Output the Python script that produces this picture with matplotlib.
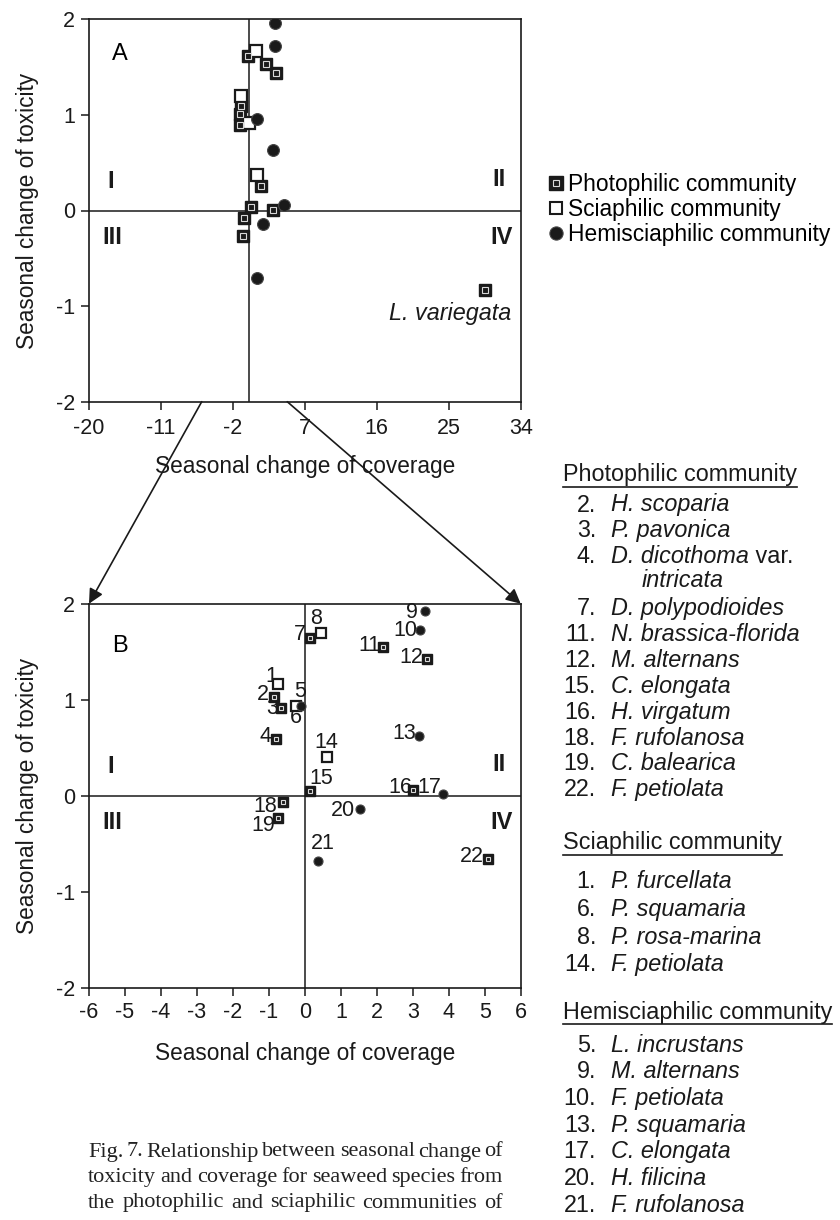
import matplotlib
matplotlib.use('Agg')
import matplotlib.pyplot as plt
from matplotlib.patches import ConnectionPatch
from matplotlib.legend_handler import HandlerTuple
from matplotlib.lines import Line2D

plt.rcParams['font.family'] = ['Liberation Sans', 'DejaVu Sans']
plt.rcParams['axes.unicode_minus'] = False

# panel A : whole range of coverage change
a_photo_x = [-0.07, 2.14, 3.35, -0.99, -1.11, -1.11, 1.48, 0.22, 3.06, -0.61, -0.69]
a_photo_y = [1.62, 1.53, 1.44, 1.09, 1.01, 0.89, 0.26, 0.04, 0.01, -0.08, -0.27]
a_scia_x = [0.89, -0.99, 0.05, 1.05]
a_scia_y = [1.67, 1.20, 0.92, 0.37]
a_hemi_x = [3.27, 3.27, 0.98, 3.06, 4.40, 1.73, 1.06]
a_hemi_y = [1.96, 1.72, 0.96, 0.63, 0.06, -0.14, -0.71]
outlier_name = 'L. variegata'
outlier_x = [29.54]
outlier_y = [-0.83]

# panel B : zoom on -6..6, numbered species
b_photo_num = [2, 3, 4, 7, 11, 12, 15, 16, 18, 19, 22]
b_photo_x = [-0.86, -0.67, -0.80, 0.13, 2.16, 3.39, 0.13, 3.00, -0.62, -0.76, 5.10]
b_photo_y = [1.03, 0.91, 0.59, 1.64, 1.55, 1.42, 0.05, 0.06, -0.07, -0.23, -0.66]
b_scia_num = [1, 6, 8, 14]
b_scia_x = [-0.76, -0.25, 0.44, 0.62]
b_scia_y = [1.16, 0.93, 1.69, 0.40]
b_hemi_num = [5, 9, 10, 13, 17, 20, 21]
b_hemi_x = [-0.10, 3.34, 3.20, 3.16, 3.83, 1.53, 0.37]
b_hemi_y = [0.93, 1.92, 1.73, 0.62, 0.02, -0.14, -0.68]

# species names for the list on the right
photo_names = ['H. scoparia', 'P. pavonica', 'D. dicothoma var. intricata', 'D. polypodioides',
               'N. brassica-florida', 'M. alternans', 'C. elongata', 'H. virgatum',
               'F. rufolanosa', 'C. balearica', 'F. petiolata']
scia_names = ['P. furcellata', 'P. squamaria', 'P. rosa-marina', 'F. petiolata']
hemi_names = ['L. incrustans', 'M. alternans', 'F. petiolata', 'P. squamaria',
              'C. elongata', 'H. filicina', 'F. rufolanosa']

groups = ['Photophilic community', 'Sciaphilic community', 'Hemisciaphilic community']

a_xticks = [-20, -11, -2, 7, 16, 25, 34]
b_xticks = list(range(-6, 7))
yticks = [-2, -1, 0, 1, 2]

caption = ['Fig. 7. Relationship between seasonal change of',
           'toxicity and coverage for seaweed species from',
           'the photophilic and sciaphilic communities of']

W, H = 840, 1220
fig = plt.figure(figsize=(W / 100, H / 100), dpi=100)


def fx(x):
    return x / W


def fy(y):
    return 1 - y / H


axA = fig.add_axes([fx(89), fy(401.7), fx(520.7) - fx(89), fy(19.3) - fy(401.7)])
axB = fig.add_axes([fx(89), fy(987.7), fx(520.7) - fx(89), fy(603.7) - fy(987.7)])

FS = 15.5      # ticks and point numbers
FL = 16.3      # axis titles
FT = 16.8      # species list
INK = '#1a1a1a'


def photo(ax, x, y, big):
    ms, inner = (8.5, 4.5) if big else (7.5, 3.5)
    ax.plot(x, y, 's', ms=ms, mfc=INK, mec=INK, mew=1, ls='none', zorder=4)
    ax.plot(x, y, 's', ms=inner, mfc='none', mec='#d8d8d8', mew=0.8, ls='none', zorder=5)


def scia(ax, x, y, big):
    ms = 8.5 if big else 7.5
    ax.plot(x, y, 's', ms=ms, mfc='white', mec=INK, mew=1.6, ls='none', zorder=4)


def hemi(ax, x, y, big):
    ms = 8.5 if big else 6.5
    ax.plot(x, y, 'o', ms=ms, mfc=INK, mec='#444444', mew=0.8, ls='none', zorder=4)


for ax, xt in [(axA, a_xticks), (axB, b_xticks)]:
    ax.set_xlim(xt[0], xt[-1])
    ax.set_ylim(-2, 2)
    ax.set_xticks(xt)
    ax.set_yticks(yticks)
    ax.axhline(0, color=INK, lw=1.1, zorder=1)
    ax.axvline(0, color=INK, lw=1.1, zorder=1)
    for s in ax.spines.values():
        s.set_linewidth(1.2)
        s.set_color(INK)
    ax.tick_params(direction='out', length=6, width=1.1, labelsize=FS, colors=INK, pad=4)
    ax.set_ylabel('Seasonal change of toxicity', fontsize=FL, labelpad=12, color=INK)
    for txt, px, py in [('I', 0.05, 0.575), ('II', 0.95, 0.58), ('III', 0.055, 0.43),
                        ('IV', 0.955, 0.43)]:
        ax.text(px, py, txt, transform=ax.transAxes, fontsize=17, fontweight='bold',
                ha='center', va='center', color=INK)

axA.tick_params(axis='x', pad=6)
axA.set_xlabel('Seasonal change of coverage', fontsize=FL, labelpad=11, color=INK)
axB.set_xlabel('Seasonal change of coverage', fontsize=FL, labelpad=14, color=INK)
axA.text(0.072, 0.91, 'A', transform=axA.transAxes, fontsize=17, ha='center', va='center')
axB.text(0.072, 0.89, 'B', transform=axB.transAxes, fontsize=17, ha='center', va='center')

# panel A
photo(axA, a_photo_x, a_photo_y, True)
scia(axA, a_scia_x, a_scia_y, True)
hemi(axA, a_hemi_x, a_hemi_y, True)
photo(axA, outlier_x, outlier_y, True)
axA.annotate(outlier_name, (outlier_x[0], outlier_y[0]), xytext=(-35, -24),
             textcoords='offset pixels', ha='center', va='center',
             fontsize=FT, style='italic', color=INK)

# panel B
photo(axB, b_photo_x, b_photo_y, False)
scia(axB, b_scia_x, b_scia_y, False)
hemi(axB, b_hemi_x, b_hemi_y, False)

# label offsets (pixels) for the numbers next to each point
label_off = {1: (-6, 8), 2: (-11, 2), 3: (-9, 0), 4: (-11, 3), 5: (-1, 15), 6: (0, -11),
             7: (-10, 4), 8: (-5, 15), 9: (-13, -1), 10: (-15, -1), 11: (-13, 1),
             12: (-15, 2), 13: (-14, 3), 14: (-1, 15), 15: (12, 12), 16: (-12, 2),
             17: (-13, 6), 18: (-17, -4), 19: (-14, -8), 20: (-17, -1), 21: (5, 17),
             22: (-16, 3)}
for nums, xs, ys in [(b_photo_num, b_photo_x, b_photo_y), (b_scia_num, b_scia_x, b_scia_y),
                     (b_hemi_num, b_hemi_x, b_hemi_y)]:
    for n, x, y in zip(nums, xs, ys):
        axB.annotate(str(n), (x, y), xytext=label_off[n], textcoords='offset pixels',
                     ha='center', va='center', fontsize=FS, color=INK, zorder=3)

# zoom arrows from A to the corners of B
for xa, corner in [(-5.9, (0, 1)), (4.8, (1, 1))]:
    con = ConnectionPatch(xyA=(xa, -2), coordsA=axA.transData, xyB=corner,
                          coordsB=axB.transAxes, arrowstyle='-|>', mutation_scale=22,
                          lw=1.2, color=INK, shrinkA=0, shrinkB=0, zorder=10)
    fig.add_artist(con)

# legend
h_photo = (Line2D([], [], marker='s', ms=9.5, mfc=INK, mec=INK, ls='none'),
           Line2D([], [], marker='s', ms=5, mfc='none', mec='#d8d8d8', mew=0.8, ls='none'))
h_scia = Line2D([], [], marker='s', ms=9, mfc='white', mec=INK, mew=1.5, ls='none')
h_hemi = Line2D([], [], marker='o', ms=9.5, mfc=INK, mec='#444444', mew=0.8, ls='none')
fig.legend([h_photo, h_scia, h_hemi], groups, loc='upper left',
           bbox_to_anchor=(fx(537), fy(162)), frameon=False, fontsize=16.4,
           handlelength=0.7, handletextpad=0.15, labelspacing=0.07, borderpad=0,
           handler_map={tuple: HandlerTuple(ndivide=1, pad=0)})

# species lists
fig.canvas.draw()
rend = fig.canvas.get_renderer()


def heading(txt, y):
    t = fig.text(fx(563), fy(y), txt, fontsize=FT, va='center', ha='left', color=INK)
    bb = t.get_window_extent(renderer=rend)
    fig.add_artist(Line2D([bb.x0 / W, bb.x1 / W], [fy(y + 12)] * 2, color=INK, lw=1.2))


def rows(nums, names, y0, step):
    y = y0
    for n, name in zip(nums, names):
        fig.text(fx(596), fy(y), '%d.' % n, fontsize=FT, ha='right', va='center', color=INK)
        if ' var. ' in name:
            first, second = name.split(' var. ')
            t = fig.text(fx(611), fy(y), first, fontsize=FT, style='italic', ha='left',
                         va='center', color=INK)
            bb = t.get_window_extent(renderer=rend)
            fig.text(bb.x1 / W, fy(y), ' var.', fontsize=FT, ha='left', va='center', color=INK)
            y += step
            fig.text(fx(642), fy(y - 2), second, fontsize=FT, style='italic', ha='left',
                     va='center', color=INK)
        else:
            fig.text(fx(611), fy(y), name, fontsize=FT, style='italic', ha='left',
                     va='center', color=INK)
        y += step


heading(groups[0], 475)
rows(b_photo_num, photo_names, 505, 25.9)
heading(groups[1], 843)
rows(b_scia_num, scia_names, 882, 27.5)
heading(groups[2], 1012)
rows(b_hemi_num, hemi_names, 1045, 26.7)

# justified caption
for i, line in enumerate(caption):
    words = line.split()
    y = 1152 + i * 25.5
    ts = [fig.text(0, fy(y), w, fontsize=16, family='Liberation Serif', va='center',
                   ha='left', color='#222222') for w in words]
    widths = [t.get_window_extent(renderer=rend).width for t in ts]
    gap = (503 - 88 - sum(widths)) / (len(words) - 1)
    x = 88
    for t, wd in zip(ts, widths):
        t.set_x(fx(x))
        x += wd + gap

fig.savefig('out.png', dpi=100)
